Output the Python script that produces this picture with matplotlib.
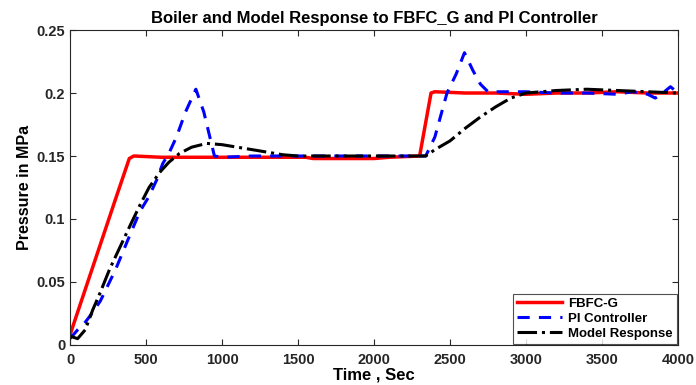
import matplotlib
matplotlib.use('Agg')
import matplotlib.pyplot as plt

plt.rcParams['font.family'] = ['Liberation Sans', 'DejaVu Sans']
plt.rcParams['font.weight'] = 'bold'

# FBFC-G response
t_fbfc = [0, 100, 200, 300, 390, 420, 600, 800, 1000, 1200, 1400, 1550, 1600,
          1800, 2000, 2100, 2300, 2375, 2400, 2600, 2800, 3000, 3200, 3400,
          3600, 3800, 4000]
p_fbfc = [0.008, 0.044, 0.080, 0.116, 0.148, 0.150, 0.149, 0.149, 0.149,
          0.149, 0.149, 0.149, 0.148, 0.148, 0.148, 0.149, 0.150, 0.200,
          0.201, 0.200, 0.200, 0.199, 0.200, 0.200, 0.201, 0.200, 0.200]

# PI controller response
t_pi = [0, 50, 100, 150, 200, 300, 400, 460, 520, 570, 610, 650, 700, 760,
        828, 880, 920, 950, 1000, 1200, 1400, 1600, 1800, 2000, 2200, 2340,
        2400, 2480, 2540, 2595, 2650, 2700, 2750, 2800, 3000, 3200, 3400,
        3600, 3700, 3800, 3850, 3900, 3950, 4000]
p_pi = [0.005, 0.012, 0.018, 0.026, 0.035, 0.060, 0.089, 0.106, 0.118,
        0.131, 0.144, 0.152, 0.165, 0.185, 0.203, 0.185, 0.165, 0.150,
        0.149, 0.150, 0.150, 0.150, 0.150, 0.150, 0.150, 0.150, 0.165,
        0.200, 0.215, 0.232, 0.218, 0.207, 0.201, 0.201, 0.201, 0.200,
        0.200, 0.199, 0.201, 0.199, 0.196, 0.200, 0.205, 0.200]

# Model response
t_model = [0, 50, 100, 150, 200, 260, 330, 400, 460, 520, 590, 650, 720, 800,
           900, 1000, 1100, 1200, 1300, 1400, 1500, 1700, 2000, 2340, 2400,
           2500, 2600, 2700, 2800, 2900, 3000, 3200, 3400, 3600, 3800, 4000]
p_model = [0.007, 0.005, 0.012, 0.028, 0.042, 0.060, 0.078, 0.096, 0.111,
           0.125, 0.137, 0.145, 0.152, 0.157, 0.160, 0.159, 0.157, 0.155,
           0.153, 0.151, 0.150, 0.150, 0.150, 0.150, 0.155, 0.162, 0.172,
           0.181, 0.189, 0.196, 0.200, 0.202, 0.203, 0.202, 0.201, 0.200]

fig = plt.figure(figsize=(6.96, 3.85), dpi=100)
ax = fig.add_axes([0.1006, 0.104, 0.8736, 0.818])

ax.plot(t_fbfc, p_fbfc, color='#ff0000', linewidth=2.5, label='FBFC-G')
ax.plot(t_pi, p_pi, color='#0000ff', linestyle='--', dashes=(4, 3),
        linewidth=2.2, label='PI Controller')
ax.plot(t_model, p_model, color='black', linestyle='-.', linewidth=2.2,
        label='Model Response')

ax.set_xlim(0, 4000)
ax.set_ylim(0, 0.25)
ax.set_xticks(range(0, 4001, 500))
ax.set_yticks([0, 0.05, 0.1, 0.15, 0.2, 0.25])
ax.set_yticklabels(['0', '0.05', '0.1', '0.15', '0.2', '0.25'])
ax.tick_params(direction='in', top=True, right=True, labelsize=10.5,
               colors='#262626', length=4)
ax.tick_params(axis='x', pad=6)
for s in ax.spines.values():
    s.set_color('#262626')
    s.set_linewidth(0.8)

ax.set_title('Boiler and Model Response to FBFC_G and PI Controller',
             fontsize=12, fontweight='bold', pad=5)
ax.set_xlabel('Time , Sec', fontsize=12, fontweight='bold', labelpad=0)
ax.set_ylabel('Pressure in MPa', fontsize=11.5, fontweight='bold', labelpad=3)

leg = ax.legend(loc='lower right', fontsize=9.5, fancybox=False,
                edgecolor='#262626', borderaxespad=0.1, handlelength=3.4,
                labelspacing=0.2, borderpad=0.3, handletextpad=0.5)
leg.get_frame().set_linewidth(0.8)

fig.savefig('out.png', dpi=100)
